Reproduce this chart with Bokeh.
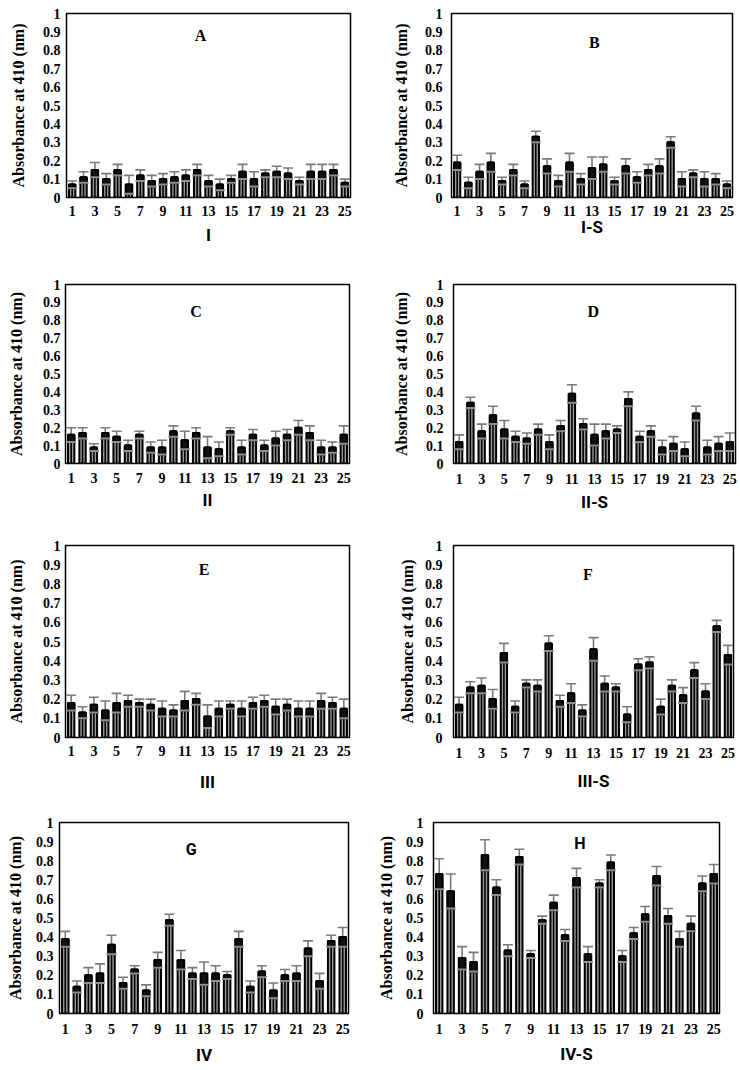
from bokeh.plotting import figure
from bokeh.layouts import column, row
from bokeh.models import (ColumnDataSource, FixedTicker, CustomJSTickFormatter,
                          Whisker, TeeHead, Label, Range1d)
from bokeh.embed import file_html
from bokeh.resources import INLINE

# ---------------- data ----------------
samples = list(range(1, 26))
x_tick_values = [1, 3, 5, 7, 9, 11, 13, 15, 17, 19, 21, 23, 25]
y_tick_values = [0, 0.1, 0.2, 0.3, 0.4, 0.5, 0.6, 0.7, 0.8, 0.9, 1.0]
y_axis_title = "Absorbance at 410 (nm)"

panel_letters = ["A", "B", "C", "D", "E", "F", "G", "H"]
group_names = ["I", "I-S", "II", "II-S", "III", "III-S", "IV", "IV-S"]

A_mean = [0.07, 0.11, 0.15, 0.10, 0.15, 0.07, 0.12, 0.09, 0.10, 0.11, 0.12, 0.15, 0.09,
          0.07, 0.10, 0.14, 0.10, 0.13, 0.14, 0.13, 0.09, 0.14, 0.14, 0.15, 0.08]
A_err = [0.02, 0.03, 0.04, 0.03, 0.03, 0.05, 0.03, 0.03, 0.03, 0.03, 0.03, 0.03, 0.03,
         0.03, 0.02, 0.04, 0.04, 0.02, 0.03, 0.03, 0.02, 0.04, 0.04, 0.03, 0.02]

B_mean = [0.19, 0.08, 0.14, 0.19, 0.09, 0.15, 0.07, 0.33, 0.17, 0.09, 0.19, 0.10, 0.16,
          0.18, 0.09, 0.17, 0.11, 0.15, 0.17, 0.30, 0.10, 0.13, 0.10, 0.10, 0.07]
B_err = [0.04, 0.03, 0.04, 0.05, 0.02, 0.03, 0.02, 0.03, 0.04, 0.03, 0.05, 0.03, 0.06,
         0.04, 0.02, 0.04, 0.03, 0.03, 0.04, 0.03, 0.04, 0.02, 0.04, 0.03, 0.02]

C_mean = [0.16, 0.17, 0.09, 0.17, 0.15, 0.10, 0.16, 0.09, 0.09, 0.18, 0.13, 0.17, 0.09,
          0.08, 0.18, 0.09, 0.16, 0.10, 0.14, 0.16, 0.20, 0.17, 0.09, 0.09, 0.16]
C_err = [0.04, 0.03, 0.02, 0.03, 0.03, 0.03, 0.02, 0.03, 0.04, 0.03, 0.05, 0.03, 0.06,
         0.04, 0.02, 0.04, 0.03, 0.03, 0.04, 0.03, 0.04, 0.04, 0.04, 0.03, 0.05]

D_mean = [0.12, 0.34, 0.18, 0.27, 0.19, 0.15, 0.14, 0.19, 0.12, 0.21, 0.39, 0.22, 0.16,
          0.18, 0.19, 0.36, 0.15, 0.18, 0.09, 0.11, 0.08, 0.28, 0.09, 0.11, 0.12]
D_err = [0.04, 0.03, 0.04, 0.05, 0.05, 0.03, 0.03, 0.03, 0.04, 0.03, 0.05, 0.03, 0.06,
         0.04, 0.02, 0.04, 0.03, 0.03, 0.04, 0.04, 0.04, 0.04, 0.04, 0.04, 0.05]

E_mean = [0.18, 0.13, 0.17, 0.14, 0.18, 0.19, 0.18, 0.17, 0.15, 0.14, 0.19, 0.20, 0.11,
          0.15, 0.17, 0.15, 0.18, 0.19, 0.16, 0.17, 0.15, 0.15, 0.19, 0.18, 0.15]
E_err = [0.04, 0.03, 0.04, 0.05, 0.05, 0.03, 0.02, 0.03, 0.04, 0.03, 0.05, 0.03, 0.06,
         0.04, 0.02, 0.04, 0.03, 0.03, 0.04, 0.03, 0.04, 0.04, 0.04, 0.03, 0.05]

F_mean = [0.17, 0.26, 0.27, 0.20, 0.44, 0.16, 0.28, 0.27, 0.49, 0.19, 0.23, 0.14, 0.46,
          0.28, 0.26, 0.12, 0.38, 0.39, 0.16, 0.27, 0.22, 0.35, 0.24, 0.58, 0.43]
F_err = [0.04, 0.03, 0.04, 0.05, 0.05, 0.03, 0.02, 0.03, 0.04, 0.03, 0.05, 0.03, 0.06,
         0.04, 0.02, 0.04, 0.03, 0.03, 0.04, 0.03, 0.04, 0.04, 0.04, 0.03, 0.05]

G_mean = [0.39, 0.14, 0.20, 0.21, 0.36, 0.16, 0.23, 0.12, 0.28, 0.49, 0.28, 0.21, 0.21,
          0.21, 0.20, 0.39, 0.14, 0.22, 0.12, 0.20, 0.21, 0.34, 0.17, 0.38, 0.40]
G_err = [0.04, 0.03, 0.04, 0.05, 0.05, 0.03, 0.02, 0.03, 0.04, 0.03, 0.05, 0.03, 0.06,
         0.04, 0.02, 0.04, 0.03, 0.03, 0.04, 0.03, 0.04, 0.04, 0.04, 0.03, 0.05]

H_mean = [0.73, 0.64, 0.29, 0.27, 0.83, 0.66, 0.33, 0.82, 0.31, 0.49, 0.58, 0.41, 0.71,
          0.31, 0.68, 0.79, 0.30, 0.42, 0.52, 0.72, 0.51, 0.39, 0.47, 0.68, 0.73]
H_err = [0.08, 0.09, 0.06, 0.05, 0.08, 0.04, 0.03, 0.04, 0.02, 0.02, 0.04, 0.03, 0.05,
         0.04, 0.02, 0.04, 0.03, 0.03, 0.04, 0.05, 0.04, 0.04, 0.04, 0.04, 0.05]

means = [A_mean, B_mean, C_mean, D_mean, E_mean, F_mean, G_mean, H_mean]
errors = [A_err, B_err, C_err, D_err, E_err, F_err, G_err, H_err]

# ---------------- layout / style per panel ----------------
SERIF = "Liberation Serif"
SANS = "Roboto"
layout = [
    dict(w=370, h=262, bl=66, br=20, bt=13, bb=65, xts=8, xls=6, yts=6, yls=13, lx=12.3, ly=0.88, lf=SERIF),
    dict(w=370, h=262, bl=81, br=8, bt=10, bb=65, xts=8, xls=-2, yts=9, yls=12, lx=13.2, ly=0.84, lf=SERIF),
    dict(w=370, h=268, bl=65, br=21, bt=13, bb=67, xts=9, xls=4, yts=5, yls=15, lx=12.0, ly=0.85, lf=SERIF),
    dict(w=370, h=268, bl=83, br=5, bt=22, bb=51, xts=10, xls=5, yts=10, yls=13, lx=12.9, ly=0.85, lf=SERIF),
    dict(w=370, h=270, bl=65, br=21, bt=14, bb=63, xts=8, xls=13, yts=5, yls=15, lx=12.7, ly=0.875, lf=SERIF),
    dict(w=370, h=270, bl=83, br=7, bt=15, bb=56, xts=10, xls=10, yts=11, yls=6, lx=12.5, ly=0.85, lf=SERIF),
    dict(w=370, h=270, bl=59, br=22, bt=22, bb=57, xts=10, xls=8, yts=6, yls=9, lx=11.9, ly=0.86, lf=SANS),
    dict(w=370, h=270, bl=63, br=21, bt=20, bb=50, xts=10, xls=7, yts=10, yls=8, lx=13.3, ly=0.89, lf=SANS),
]

y_fmt_code = "const s = tick.toFixed(1); return s.endsWith('.0') ? s.slice(0, -2) : s;"

BAR_W = 0.56
GRAY = "#9a9a9a"


def make_panel(i):
    L = layout[i]
    m = means[i]
    e = errors[i]
    src = ColumnDataSource(dict(
        x=samples,
        mean=m,
        err=e,
        upper=[a + b for a, b in zip(m, e)],
        lower=[max(a - b, 0) for a, b in zip(m, e)],
    ))
    p = figure(width=L["w"], height=L["h"], output_backend="svg", toolbar_location=None,
               x_range=Range1d(0.5, 25.5), y_range=Range1d(0, 1),
               min_border_left=L["bl"], min_border_right=L["br"],
               min_border_top=L["bt"], min_border_bottom=L["bb"])
    p.grid.visible = False
    p.outline_line_color = "black"
    p.outline_line_width = 1.5
    p.background_fill_color = "white"
    p.border_fill_color = "white"

    # bars
    p.vbar(x="x", top="mean", width=BAR_W, source=src, fill_color=GRAY,
           line_color="black", line_width=2)
    p.vbar(x="x", top="mean", width=0.14, source=src, fill_color="black", line_color=None)
    p.vbar(x="x", bottom="lower", top="mean", width=BAR_W, source=src,
           fill_color="#111111", line_color="black", line_width=2)
    # error bars
    w = Whisker(source=src, base="x", lower="mean", upper="upper",
                line_color="#7a7a7a", line_width=1.6,
                upper_head=TeeHead(size=10, line_color="#7a7a7a", line_width=1.6),
                lower_head=None)
    p.add_layout(w)
    p.scatter(x="x", y="lower", source=src, marker="dash", size=10,
              line_color="#8f8f8f", line_width=2)

    # axes
    p.xaxis.ticker = FixedTicker(ticks=x_tick_values)
    p.yaxis.ticker = FixedTicker(ticks=y_tick_values)
    p.yaxis.formatter = CustomJSTickFormatter(code=y_fmt_code)
    for ax in (p.xaxis[0], p.yaxis[0]):
        ax.axis_line_color = None
        ax.major_tick_line_color = None
        ax.minor_tick_line_color = None
        ax.major_tick_out = 0
        ax.major_tick_in = 0
        ax.major_label_text_font = SERIF
        ax.major_label_text_font_style = "bold"
        ax.major_label_text_font_size = "14px"
        ax.major_label_text_color = "black"
    p.xaxis.major_label_standoff = L["xts"]
    p.yaxis.major_label_standoff = L["yts"]

    p.xaxis.axis_label = group_names[i]
    p.xaxis.axis_label_text_font = SANS
    p.xaxis.axis_label_text_font_style = "bold"
    p.xaxis.axis_label_text_font_size = "17px"
    p.xaxis.axis_label_text_color = "black"
    p.xaxis.axis_label_standoff = L["xls"]

    p.yaxis.axis_label = y_axis_title
    p.yaxis.axis_label_text_font = SERIF
    p.yaxis.axis_label_text_font_style = "bold"
    p.yaxis.axis_label_text_font_size = "16px"
    p.yaxis.axis_label_text_color = "black"
    p.yaxis.axis_label_standoff = L["yls"]

    p.add_layout(Label(x=L["lx"], y=L["ly"], text=panel_letters[i], text_font=L["lf"],
                       text_font_style="bold", text_font_size="16px", text_color="black",
                       text_align="center", text_baseline="middle"))
    return p


panels = [make_panel(i) for i in range(8)]
page = column(
    row(panels[0], panels[1]),
    row(panels[2], panels[3]),
    row(panels[4], panels[5]),
    row(panels[6], panels[7]),
)

open("out.html", "w").write(file_html(page, INLINE))
